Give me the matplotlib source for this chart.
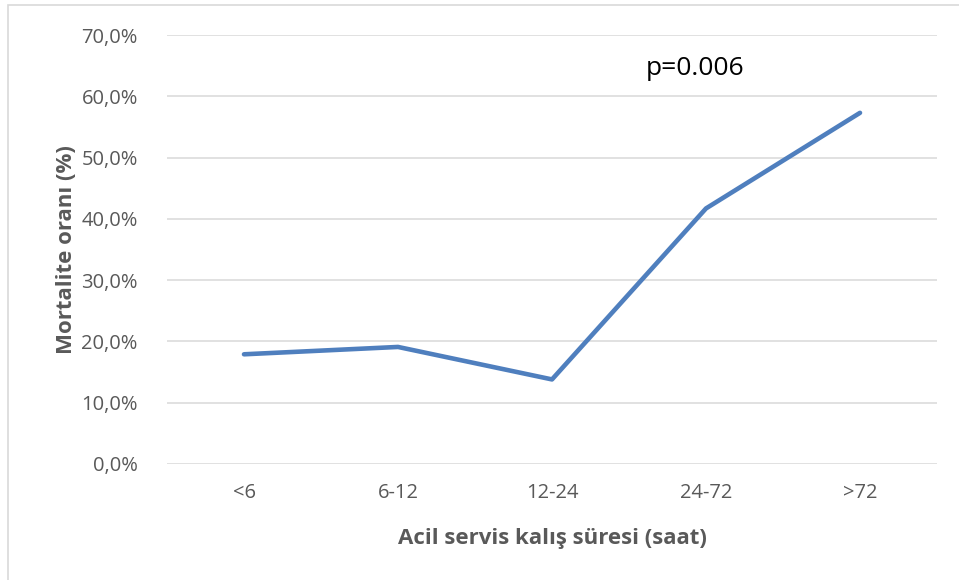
import matplotlib.pyplot as plt
from matplotlib.patches import Rectangle

# veriler
categories = ["<6", "6-12", "12-24", "24-72", ">72"]
mortality = [17.9, 19.1, 13.8, 41.7, 57.3]
y_ticks = [0, 10, 20, 30, 40, 50, 60, 70]

plt.rcParams['font.family'] = ['Open Sans', 'DejaVu Sans']

W, H = 959, 580
fig = plt.figure(figsize=(W / 100, H / 100), dpi=100)
ax = fig.add_axes([167 / W, 1 - 464 / H, (937 - 167) / W, (464 - 35) / H])

# grafik çerçevesi
fig.patches.append(Rectangle((8 / W, -0.1), 1.2, 1 - 5 / H + 0.1,
                             transform=fig.transFigure, fill=False,
                             edgecolor='#D9D9D9', linewidth=1.2))

x = list(range(len(categories)))
ax.plot(x, mortality, color='#4F7FBE', linewidth=3.3, solid_capstyle='round', zorder=3)

ax.set_xlim(-0.5, len(categories) - 0.5)
ax.set_ylim(0, 70)
ax.set_yticks(y_ticks)
ax.set_yticklabels([f"{v:.1f}%".replace('.', ',') for v in y_ticks])
ax.set_xticks(x)
ax.set_xticklabels(categories)
ax.grid(axis='y', color='#D9D9D9', linewidth=1.1)
ax.set_axisbelow(True)
for s in ax.spines.values():
    s.set_visible(False)
ax.tick_params(axis='both', length=0, labelsize=14.5, colors='#595959')
ax.tick_params(axis='y', pad=21)
ax.tick_params(axis='x', pad=14)

ax.set_ylabel("Mortalite oranı (%)", fontsize=16, fontweight='bold', color='#595959', labelpad=3)
ax.set_xlabel("Acil servis kalış süresi (saat)", fontsize=16, fontweight='bold', color='#595959', labelpad=18)

ax.text(3 - 0.07, 64.6, "p=0.006", fontsize=19, color='black', ha='center', va='center')

plt.savefig("out.png", dpi=100)
